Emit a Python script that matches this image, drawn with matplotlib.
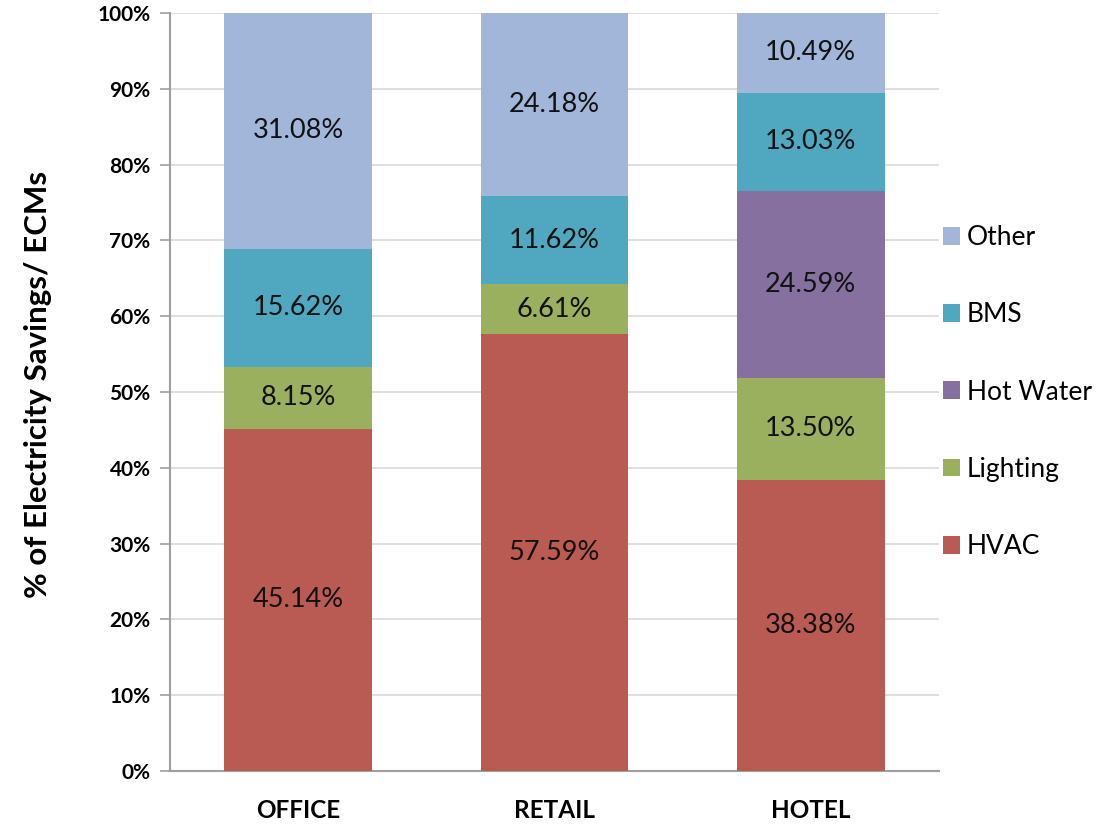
import matplotlib
matplotlib.use("Agg")
import matplotlib.pyplot as plt
import numpy as np
from matplotlib.patches import Patch
from matplotlib.ticker import MultipleLocator, FuncFormatter

categories = ["OFFICE", "RETAIL", "HOTEL"]
series_names = ["HVAC", "Lighting", "Hot Water", "BMS", "Other"]
hvac = [45.14, 57.59, 38.38]
lighting = [8.15, 6.61, 13.50]
hot_water = [0.0, 0.0, 24.59]
bms = [15.62, 11.62, 13.03]
other = [31.08, 24.18, 10.49]

colors = ["#BA5B53", "#9BB05E", "#8570A0", "#4FA8BF", "#A2B6D9"]

plt.rcParams["font.family"] = ["Lato", "DejaVu Sans"]

fig = plt.figure(figsize=(11.15, 8.25), dpi=100)
ax = fig.add_axes([170 / 1115, 1 - 771 / 825, (939 - 170) / 1115, (771 - 13) / 825])

x = np.arange(len(categories))
bottom = np.zeros(len(categories))
width = 0.577
for name, vals, col in zip(series_names, [hvac, lighting, hot_water, bms, other], colors):
    vals = np.array(vals)
    ax.bar(x, vals, width, bottom=bottom, color=col, zorder=3, label=name)
    for xi, v, b in zip(x, vals, bottom):
        if v > 0:
            ax.text(xi, b + v / 2, f"{v:.2f}%", ha="center", va="center",
                    fontsize=19.5, color="#111111", zorder=4)
    bottom += vals

ax.set_xlim(-0.5, 2.5)
ax.set_ylim(0, 100)
ax.yaxis.set_major_locator(MultipleLocator(10))
ax.yaxis.set_major_formatter(FuncFormatter(lambda v, p: f"{v:.0f}%"))
ax.set_xticks(x)
ax.set_xticklabels(categories, fontsize=17.5, fontweight="bold")
ax.tick_params(axis="x", length=0, pad=20)
ax.tick_params(axis="y", length=7, width=1.2, color="#A0A0A0", labelsize=15, pad=7)
for lbl in ax.get_yticklabels():
    lbl.set_fontweight("bold")

ax.grid(axis="y", color="#D9D9D9", linewidth=1.2, zorder=0)
for s in ["top", "right"]:
    ax.spines[s].set_visible(False)
for s in ["left", "bottom"]:
    ax.spines[s].set_color("#A0A0A0")
    ax.spines[s].set_linewidth(1.5)

ax.set_ylabel("% of Electricity Savings/ ECMs", fontsize=22.5, fontweight="bold")
ax.yaxis.set_label_coords(-0.153, 0.51)

handles = [Patch(facecolor=c, edgecolor="none") for c in colors][::-1]
labels = series_names[::-1]
fig.legend(handles, labels, loc="center left", bbox_to_anchor=(943 / 1115, 1 - 392 / 825),
           frameon=False, fontsize=19, handlelength=0.65, handleheight=0.65,
           handletextpad=0.25, labelspacing=1.98, borderpad=0, borderaxespad=0)

fig.savefig("out.png", dpi=100, facecolor="white")
